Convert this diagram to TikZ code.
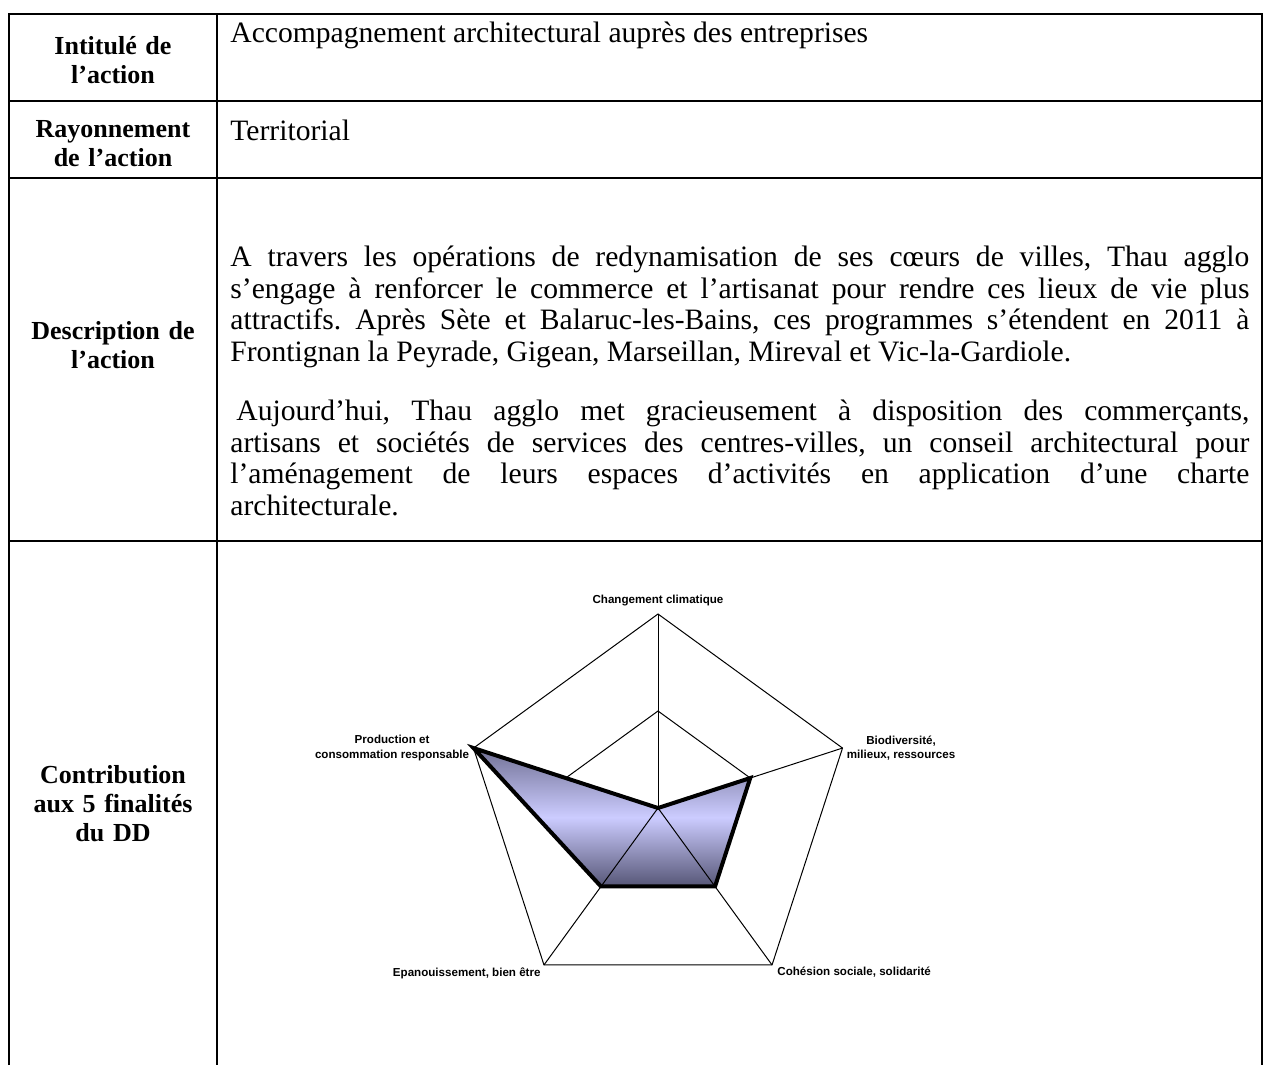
\documentclass[tikz,border=0pt]{standalone}
\usepackage{fontspec}
\setmainfont{Liberation Serif}
\newfontfamily\arialfont{Liberation Sans}
\usetikzlibrary{positioning}
\tolerance=10000
\hyphenpenalty=10000
\frenchspacing

\definecolor{haut}{RGB}{112,112,148}
\definecolor{milieu}{RGB}{204,204,255}
\definecolor{bas}{RGB}{86,86,118}

\tikzset{
  trait/.style={line width=1.3pt},
  grille/.style={line width=0.5pt},
  entete/.style={font=\fontsize{13}{14.5}\selectfont\bfseries, align=center, text width=100pt, inner sep=0pt},
  corps/.style={font=\fontsize{14.8}{15.85}\selectfont, anchor=west, inner sep=0pt},
  para/.style={corps, text width=509.5pt, align=justify},
  axe/.style={font=\arialfont\bfseries\fontsize{5.8}{7.4}\selectfont, align=center, inner sep=0pt},
}

\begin{document}
\begin{tikzpicture}[x=0.5pt, y=-0.5pt]
    \useasboundingbox (0,0) rectangle (1267,1065);

    % Tableau
    \draw[trait] (9,1065) -- (9,14) -- (1262,14) -- (1262,1065);
    \draw[trait] (217,14) -- (217,1065);
    \foreach \y in {101,178,541} {
        \draw[trait] (9,\y) -- (1262,\y);
    }

    % Colonne de gauche
    \node[entete] (h1) at (113,60) {Intitulé de\\ l'action};
    \node[entete] (h2) at (113,144) {Rayonnement\\ de l'action};
    \node[entete] (h3) at (113,345) {Description de\\ l'action};
    \node[entete] (h4) at (113,804) {Contribution\\ aux 5 finalités\\ du DD};

    % Contenu
    \node[corps] (t1) at (230,35) {Accompagnement architectural auprès des entreprises};
    \node[corps] (t2) at (230,130) {Territorial};
    \node[para] (p1) at (230,307) {A travers les opérations de redynamisation de ses cœurs de villes, Thau agglo\linebreak
        s'engage à renforcer le commerce et l'artisanat pour rendre ces lieux de vie plus\linebreak
        attractifs. Après Sète et Balaruc-les-Bains, ces programmes s'étendent en 2011 à\linebreak
        Frontignan la Peyrade, Gigean, Marseillan, Mireval et Vic-la-Gardiole.};
    \node[para] (p2) at (230,458) {\hspace*{3pt}Aujourd'hui, Thau agglo met gracieusement à disposition des commerçants,\linebreak
        artisans et sociétés de services des centres-villes, un conseil architectural pour\linebreak
        l'aménagement de leurs espaces d'activités en application d'une charte\linebreak
        architecturale.};

    % Radar des 5 finalites
    \begin{scope}[shift={(658,808)}, y=0.5pt]
        \coordinate (c) at (0,0);
        \foreach \a [count=\i] in {90,18,-54,-126,162} {
            \coordinate (o\i) at (\a:194);
            \coordinate (m\i) at (\a:97);
        }
        \draw[grille] (o1) -- (o2) -- (o3) -- (o4) -- (o5) -- cycle;
        \draw[grille] (m1) -- (m2) -- (m3) -- (m4) -- (m5) -- cycle;
        \shade[top color=haut, bottom color=bas, middle color=milieu]
            (c) -- (m2) -- (m3) -- (m4) -- (o5) -- cycle;
        \foreach \i in {1,...,5} {
            \draw[grille] (c) -- (o\i);
        }
        \draw[line width=2pt] (c) -- (m2) -- (m3) -- (m4) -- (o5) -- cycle;

        % Libelles des axes
        \node[axe, above=4pt of o1] (l1) {Changement climatique};
        \node[axe, right=2pt of o2] (l2) {Biodiversité,\\ milieux, ressources};
        \node[axe, below right=1pt and 2.5pt of o3] (l3) {Cohésion sociale, solidarité};
        \node[axe, below left=1pt and 1.5pt of o4] (l4) {Epanouissement, bien être};
        \node[axe, left=2pt of o5] (l5) {Production et\\ consommation responsable};
    \end{scope}
\end{tikzpicture}
\end{document}
